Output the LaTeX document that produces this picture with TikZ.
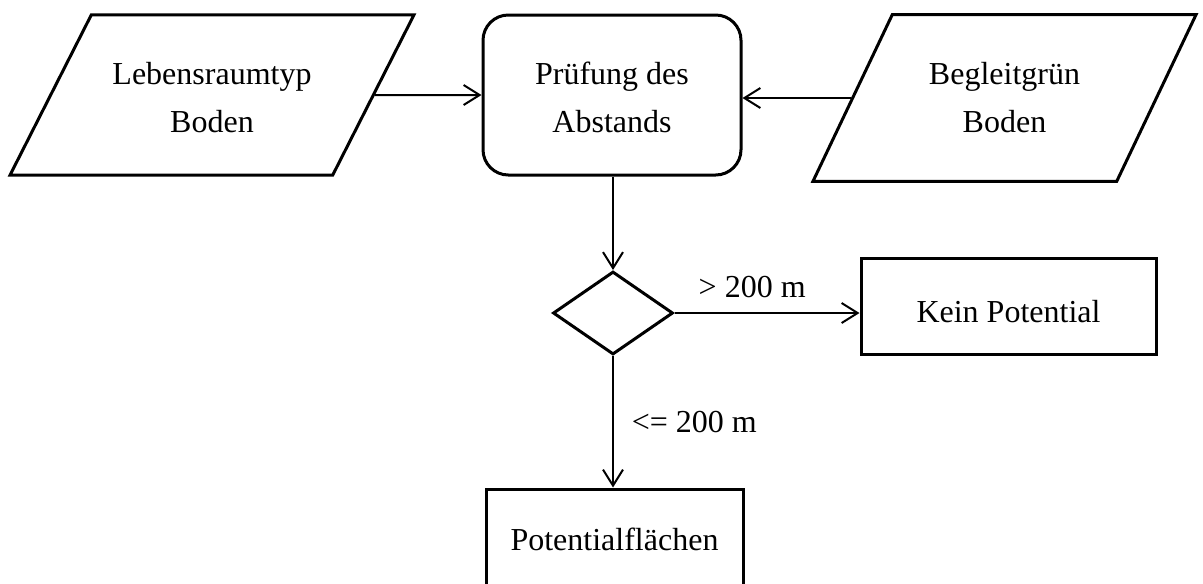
\documentclass[tikz,border=0pt]{standalone}
\usepackage{fontspec}
\setmainfont{Liberation Serif}
\usetikzlibrary{positioning, shapes.geometric, arrows.meta, calc}

\begin{document}
\begin{tikzpicture}[
		x=0.75pt, y=-0.75pt,
		every node/.style={font=\fontsize{24}{36}\selectfont, align=center, line width=2.25pt, inner sep=0pt},
		io/.style={draw, trapezium, trapezium stretches body, trapezium left angle=#1, trapezium right angle=180-#1},
		proc/.style={draw, rectangle, rounded corners=19pt},
		box/.style={draw, rectangle},
		dec/.style={draw, diamond, minimum width=90pt, minimum height=62.25pt},
		arr/.style={line width=1.5pt, -{Straight Barb[length=12pt, width=15pt, line width=1.5pt]}}]
		\clip (0,0) rectangle (1203,583);
		\node[io=63.1, text height=57pt, inner ysep=31.5pt, minimum width=303pt, minimum height=120pt] (lebens) at (212,95) {Lebensraumtyp\\Boden};
		\node[proc, minimum width=193.5pt, minimum height=120pt, text height=57pt] (pruef) at (612,95) {Prüfung des\\Abstands};
		\node[io=64.55, inner ysep=36pt, minimum width=287.25pt, minimum height=124.5pt] (begleit) at (1004.5,98) {Begleitgrün\\Boden};
		\node[dec] (abst) at ($ (pruef) + (1,218) $) {};
		\node[box, minimum width=221.25pt, minimum height=72pt, text height=25pt, text depth=0pt] (kein) at ($ (abst) + (395.5,-7) $) {Kein Potential};
		\node[box, minimum width=192.75pt, minimum height=81pt, text depth=6pt] (pot) at ($ (abst) + (1.5,230) $) {Potentialflächen};
		\draw[arr] (lebens.east) -- (pruef.west);
		\draw[arr] (begleit.west) -- (begleit.west -| pruef.east);
		\draw[arr] (pruef.south -| abst.north) -- (abst.north);
		\draw[arr] (abst.east) -- node[above=10pt, pos=0.42]{> 200 m}(abst.east -| kein.west);
		\draw[arr] (abst.south) -- node[right=13pt, midway]{<= 200 m}(abst.south |- pot.north);
	\end{tikzpicture}
\end{document}
